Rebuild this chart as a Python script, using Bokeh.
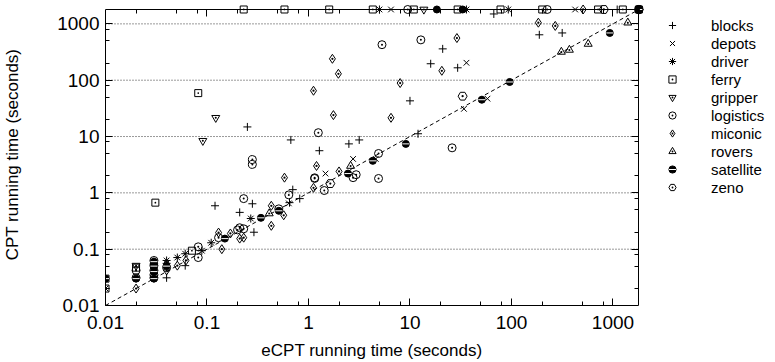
import numpy as np
from bokeh.plotting import figure
from bokeh.models import (LogAxis, FixedTicker, CustomJSTickFormatter, Legend,
                          LegendItem, Range1d, ColumnDataSource)
from bokeh.embed import file_html
from bokeh.resources import INLINE

# ---------------- data ----------------
AX_MIN, AX_MAX = 0.01, 1800
major_ticks = [0.01, 0.1, 1, 10, 100, 1000]
tick_labels = ["0.01", "0.1", "1", "10", "100", "1000"]
minor_ticks = [m * 10.0 ** e for e in range(-2, 4) for m in (2, 5, 8) if m * 10.0 ** e < AX_MAX]

blocks_x = [0.04, 0.061, 0.12, 0.21, 0.28, 0.29, 0.65, 0.70, 0.82, 0.25, 0.67, 1.28, 2.5, 3.16,
            10, 12, 16, 21, 29.5, 188, 316, 67, 1100, 1800]
blocks_y = [0.031, 0.051, 0.59, 0.45, 0.64, 0.2, 0.67, 1.14, 0.79, 14.8, 8.7, 5.6, 7.4, 8.7,
            43, 11.2, 196, 360, 166, 640, 690, 1500, 1800, 1800]

depots_x = [0.64, 1.47, 2.75, 4.6, 34, 58, 36, 6.5, 424, 1800]
depots_y = [0.65, 2.2, 4.0, 4.0, 31, 47, 204, 1800, 1800, 1800]

driver_x = [0.01, 0.03, 0.04, 0.04, 0.051, 0.061, 0.089, 0.11, 0.27, 5.0, 36, 93, 1800]
driver_y = [0.02, 0.06, 0.063, 0.056, 0.071, 0.083, 0.094, 0.13, 0.35, 1800, 1800, 1800, 1800]

ferry_x = [0.01, 0.01, 0.02, 0.031, 0.071, 0.082, 0.23, 0.58, 1.6, 4.3, 10.9, 29.5, 78, 201,
           713, 1250, 1800]
ferry_y = [0.02, 0.03, 0.047, 0.67, 0.094, 59, 1800, 1800, 1800, 1800, 1800, 1800, 1800, 1800,
           1800, 1800, 1800]

gripper_x = [0.02, 0.03, 0.091, 0.122, 13.7, 1800]
gripper_y = [0.051, 0.05, 8.4, 21.5, 1800, 1800]

logistics_x = [0.02, 0.02, 0.03, 0.03, 0.03, 0.03, 0.03, 0.04, 0.082, 0.082, 0.13, 0.2, 0.21,
               0.23, 0.23, 0.51, 0.64, 0.28, 0.28, 1.25, 1.15, 1.15, 1.43, 2.75, 2.95, 4.9, 4.9,
               5.3, 12.8, 26, 9.5, 225, 1800]
logistics_y = [0.042, 0.031, 0.063, 0.051, 0.042, 0.035, 0.031, 0.047, 0.11, 0.071, 0.16, 0.22,
               0.24, 0.23, 0.79, 0.52, 0.92, 3.9, 3.2, 11.7, 1.85, 1.8, 1.1, 1.86, 2.1, 5.0, 1.8,
               427, 520, 6.3, 1800, 1800, 1800]

miconic_x = [0.02, 0.04, 0.051, 0.062, 0.13, 0.14, 0.17, 0.21, 0.23, 0.43, 0.43, 0.57, 0.58,
             1.12, 1.2, 2.0, 1.12, 1.72, 1.97, 1.76, 6.5, 8.0, 20.6, 29, 184, 270, 508, 1800]
miconic_y = [0.02, 0.042, 0.051, 0.063, 0.197, 0.1, 0.19, 0.154, 0.16, 0.59, 0.26, 0.4, 1.86,
             1.23, 3.0, 2.4, 65, 240, 130, 24, 21.5, 89, 147, 560, 1050, 920, 1800, 1800]

rovers_x = [0.41, 2.6, 310, 372, 570, 1400]
rovers_y = [0.43, 3.0, 318, 345, 440, 1050]

satellite_x = [0.01, 0.02, 0.03, 0.03, 0.03, 0.03, 0.04, 0.15, 0.34, 0.51, 2.45, 4.3, 9.1, 51,
               96, 930, 18.4, 33, 1800]
satellite_y = [0.03, 0.03, 0.06, 0.05, 0.04, 0.03, 0.05, 0.154, 0.36, 0.48, 2.2, 3.7, 7.4, 45,
               93, 690, 1800, 1800, 1800]

zeno_x = [1.64, 33, 813, 1800]
zeno_y = [1.46, 52, 1800, 1800]

x_title = "eCPT running time (seconds)"
y_title = "CPT running time (seconds)"

FONT = "Liberation Sans"

# ---------------- figure ----------------
PX_X = 101.8   # pixels per decade (x)
PX_Y = 56.38   # pixels per decade (y)
FRAME_W = 667  # frame spans beyond the axes to hold the legend
x_end = 10 ** (np.log10(AX_MIN) + FRAME_W / PX_X)
y_end = 10 ** (np.log10(AX_MAX) + 6 / PX_Y)

p = figure(width=775, height=362, x_axis_type="log", y_axis_type="log",
           x_range=Range1d(AX_MIN, x_end), y_range=Range1d(AX_MIN, y_end),
           output_backend="svg", toolbar_location=None,
           min_border_left=103, min_border_right=5, min_border_top=3, min_border_bottom=57)
p.outline_line_color = None
p.xgrid.visible = False
p.ygrid.visible = False
p.background_fill_color = "white"
p.border_fill_color = "white"

fmt = CustomJSTickFormatter(args=dict(mt=major_ticks, ml=tick_labels), code="""
    for (let i = 0; i < mt.length; i++) {
        if (Math.abs(Math.log10(mt[i]) - Math.log10(tick)) < 1e-6) { return ml[i]; }
    }
    return "";
""")
blank_fmt = CustomJSTickFormatter(code="return '';")


def style_axis(ax, labels=True):
    ax.ticker = FixedTicker(ticks=major_ticks, minor_ticks=minor_ticks)
    ax.bounds = (AX_MIN, AX_MAX)
    ax.axis_line_color = "black"
    ax.axis_line_width = 1
    ax.major_tick_in = 7
    ax.major_tick_out = 0
    ax.minor_tick_in = 4
    ax.minor_tick_out = 0
    ax.major_tick_line_color = "black"
    ax.minor_tick_line_color = "black"
    if labels:
        ax.formatter = fmt
        ax.major_label_text_font = FONT
        ax.major_label_text_font_size = "19px"
        ax.major_label_text_color = "black"
        ax.axis_label_text_font = FONT
        ax.axis_label_text_font_size = "17px"
        ax.axis_label_text_font_style = "normal"
        ax.axis_label_text_color = "black"
    else:
        ax.formatter = blank_fmt
        ax.major_label_text_font_size = "1px"
        ax.major_label_standoff = 0


xb = p.below[0]
yl = p.left[0]
style_axis(xb)
style_axis(yl)
xb.major_label_standoff = 10
yl.major_label_standoff = 6
# the frame extends to the right (legend area); trailing no-break spaces keep the
# bottom title centred under the axis itself
xb.axis_label = x_title + "\u00a0" * 28
yl.axis_label = y_title
xb.axis_label_standoff = 9
yl.axis_label_standoff = 32

xt = LogAxis(fixed_location=AX_MAX)
yr = LogAxis(fixed_location=AX_MAX)
style_axis(xt, labels=False)
style_axis(yr, labels=False)
p.add_layout(xt, "above")
p.add_layout(yr, "right")

# horizontal dotted grid lines, between the axes
grid_y = major_ticks[1:]
p.segment(x0=[AX_MIN] * len(grid_y), x1=[AX_MAX] * len(grid_y), y0=grid_y, y1=grid_y,
          line_color="black", line_dash="1 2", line_width=1, line_alpha=0.8)

# diagonal y = x
p.line(x=[AX_MIN, AX_MAX], y=[AX_MIN, AX_MAX], line_color="black", line_dash="4 3", line_width=1)

common = dict(line_color="black", fill_alpha=0, line_width=1)
items = []


def add(name, xs, ys, marker, size, **kw):
    src = ColumnDataSource(dict(x=xs, y=ys))
    opts = dict(common)
    opts.update(kw)
    r = p.scatter("x", "y", source=src, marker=marker, size=size, **opts)
    items.append(LegendItem(label=name, renderers=[r]))
    return r, src


add("blocks", blocks_x, blocks_y, "cross", 8)
add("depots", depots_x, depots_y, "x", 8)
add("driver", driver_x, driver_y, "asterisk", 8)
add("ferry", ferry_x, ferry_y, "square_dot", 7)
r_gr, src_gr = add("gripper", gripper_x, gripper_y, "inverted_triangle", 8)
r_gr2 = p.scatter("x", "y", source=src_gr, marker="dot", size=8, line_color="black")
items[-1].renderers.append(r_gr2)
add("logistics", logistics_x, logistics_y, "circle_dot", 8)
add("miconic", miconic_x, miconic_y, "diamond_dot", 9)
add("rovers", rovers_x, rovers_y, "triangle_dot", 8)
r_sat, src_sat = add("satellite", satellite_x, satellite_y, "circle", 7,
                     fill_color="black", fill_alpha=1)
r_sat2 = p.scatter("x", "y", source=src_sat, marker="dash", size=7, line_color="white", line_width=1)
items[-1].renderers.append(r_sat2)
add("zeno", zeno_x, zeno_y, "hex_dot", 9)

legend = Legend(items=items, location=(558, 109), orientation="vertical",
                glyph_width=18, glyph_height=18, label_height=18, spacing=0, padding=0,
                margin=0, label_standoff=30, border_line_color=None, background_fill_alpha=0,
                label_text_font=FONT, label_text_font_size="15px", label_text_color="black")
p.add_layout(legend)

open("out.html", "w").write(file_html(p, INLINE))
